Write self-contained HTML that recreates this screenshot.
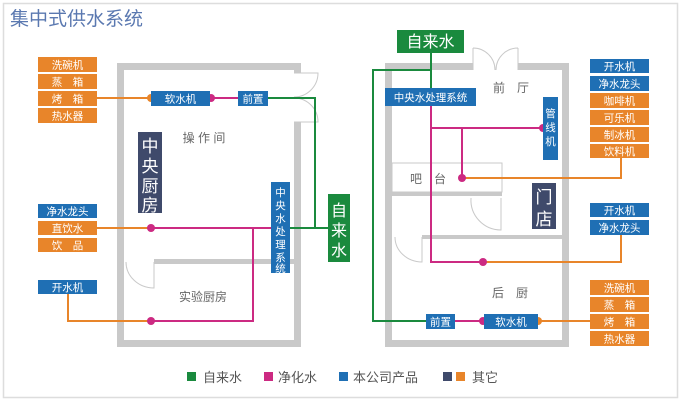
<!DOCTYPE html>
<html><head><meta charset="utf-8"><style>
html,body{margin:0;padding:0;background:#fff;}
svg{display:block;}
text{font-family:"Liberation Sans","Noto Sans CJK SC",sans-serif;}
</style></head><body>
<svg width="681" height="401" viewBox="0 0 681 401">
<rect x="3.5" y="3.5" width="674" height="394" fill="#fff" stroke="#ddd" stroke-width="1.5"/>
<text x="10" y="25" font-size="19" fill="#5a78b0">集中式供水系统</text>

<!-- left building walls -->
<g fill="#c9c9c9">
<rect x="117" y="63" width="184" height="7"/>
<rect x="117" y="63" width="7" height="284"/>
<rect x="117" y="340" width="184" height="7"/>
<rect x="294" y="63" width="7" height="10"/>
<rect x="294" y="122" width="7" height="225"/>
<rect x="154" y="259" width="140" height="5"/>
</g>
<g fill="none" stroke="#c9c9c9" stroke-width="1">
<path d="M294 73 L318 73 A24 24 0 0 1 294 97"/>
<path d="M294 122 L318 122 A24 24 0 0 0 294 98"/>
<path d="M154 262 L154 288 A28 26 0 0 1 126 262"/>
</g>

<!-- right building walls -->
<g fill="#c9c9c9">
<rect x="385" y="63" width="88" height="7"/>
<rect x="518" y="63" width="51" height="7"/>
<rect x="385" y="63" width="7" height="284"/>
<rect x="562" y="63" width="7" height="284"/>
<rect x="385" y="340" width="184" height="7"/>
<rect x="392" y="192" width="110" height="4"/>
<rect x="422" y="235" width="140" height="4"/>
</g>
<g fill="none" stroke="#c9c9c9" stroke-width="1">
<path d="M473 48 L473 70 M473 48 A22 22 0 0 1 495 70 M518 48 L518 70 M518 48 A22 22 0 0 0 496 70"/>
<rect x="392" y="163" width="110" height="29"/>
<path d="M501 198 L501 230 A30 30 0 0 1 471 198"/>
<path d="M422 237 L422 262 A27 25 0 0 1 395 237"/>
</g>

<!-- lines -->
<g fill="none" stroke-width="2">
<path d="M97 98 H151" stroke="#e8852a"/>
<path d="M210 98 H238" stroke="#cc2a82"/>
<path d="M268 98 H315 V228 M290 228 H329" stroke="#1a8a3e"/>
<path d="M97 228 H151" stroke="#e8852a"/>
<path d="M151 228 H271 M253 228 V321 H151" stroke="#cc2a82"/>
<path d="M68 294 V321 H151" stroke="#e8852a"/>
<path d="M431 53 V88 M431 70 H373 V321 H426" stroke="#1a8a3e"/>
<path d="M431 105 V262 H483 M431 128 H543 M462 128 V178" stroke="#cc2a82"/>
<path d="M462 178 H621 V158" stroke="#e8852a"/>
<path d="M483 262 H621 V235" stroke="#e8852a"/>
<path d="M455 321 H484" stroke="#cc2a82"/>
<path d="M538 321 H590" stroke="#e8852a"/>
</g>
<g>
<circle cx="151" cy="98" r="4" fill="#e8852a"/>
<circle cx="211" cy="98" r="4" fill="#cc2a82"/>
<circle cx="151" cy="228" r="4" fill="#cc2a82"/>
<circle cx="151" cy="321" r="4" fill="#cc2a82"/>
<circle cx="543" cy="128" r="4" fill="#cc2a82"/>
<circle cx="462" cy="178" r="4" fill="#cc2a82"/>
<circle cx="483" cy="262" r="4" fill="#cc2a82"/>
<circle cx="483" cy="321" r="4" fill="#cc2a82"/>
<circle cx="538" cy="321" r="4" fill="#e8852a"/>
</g>

<!-- boxes -->
<g font-size="10.5" fill="#fff" text-anchor="middle">
<rect x="38" y="57" width="59" height="15" fill="#e8852a"/><text x="67.5" y="68.5">洗碗机</text>
<rect x="38" y="74" width="59" height="15" fill="#e8852a"/><text x="67.5" y="85.5">蒸　箱</text>
<rect x="38" y="91" width="59" height="15" fill="#e8852a"/><text x="67.5" y="102.5">烤　箱</text>
<rect x="38" y="108" width="59" height="15" fill="#e8852a"/><text x="67.5" y="119.5">热水器</text>
<rect x="151" y="91" width="59" height="15" fill="#1f6fb4"/><text x="180.5" y="102.5">软水机</text>
<rect x="238" y="91" width="30" height="15" fill="#1f6fb4"/><text x="253" y="102.5">前置</text>
<rect x="38" y="204" width="59" height="14" fill="#1f6fb4"/><text x="67.5" y="215">净水龙头</text>
<rect x="38" y="221" width="59" height="14" fill="#e8852a"/><text x="67.5" y="232">直饮水</text>
<rect x="38" y="238" width="59" height="14" fill="#e8852a"/><text x="67.5" y="249">饮　品</text>
<rect x="38" y="280" width="59" height="14" fill="#1f6fb4"/><text x="67.5" y="291">开水机</text>
<rect x="271" y="182" width="19" height="91" fill="#1f6fb4"/>
<text x="280.5" y="196">中</text><text x="280.5" y="209">央</text><text x="280.5" y="222">水</text><text x="280.5" y="235">处</text><text x="280.5" y="248">理</text><text x="280.5" y="261">系</text><text x="280.5" y="272">统</text>
<rect x="385" y="88" width="91" height="18" fill="#1f6fb4"/><text x="430.5" y="101">中央水处理系统</text>
<rect x="543" y="97" width="15" height="63" fill="#1f6fb4"/>
<text x="550.5" y="117">管</text><text x="550.5" y="131">线</text><text x="550.5" y="145">机</text>
<rect x="590" y="59" width="59" height="14" fill="#1f6fb4"/><text x="619.5" y="70">开水机</text>
<rect x="590" y="76" width="59" height="15" fill="#1f6fb4"/><text x="619.5" y="87.5">净水龙头</text>
<rect x="590" y="93" width="59" height="15" fill="#e8852a"/><text x="619.5" y="104.5">咖啡机</text>
<rect x="590" y="110" width="59" height="15" fill="#e8852a"/><text x="619.5" y="121.5">可乐机</text>
<rect x="590" y="127" width="59" height="15" fill="#e8852a"/><text x="619.5" y="138.5">制冰机</text>
<rect x="590" y="144" width="59" height="14" fill="#e8852a"/><text x="619.5" y="155">饮料机</text>
<rect x="590" y="203" width="59" height="14" fill="#1f6fb4"/><text x="619.5" y="214">开水机</text>
<rect x="590" y="220" width="59" height="15" fill="#1f6fb4"/><text x="619.5" y="231.5">净水龙头</text>
<rect x="426" y="314" width="29" height="15" fill="#1f6fb4"/><text x="440.5" y="325.5">前置</text>
<rect x="484" y="314" width="54" height="15" fill="#1f6fb4"/><text x="511" y="325.5">软水机</text>
<rect x="590" y="280" width="59" height="15" fill="#e8852a"/><text x="619.5" y="291.5">洗碗机</text>
<rect x="590" y="297" width="59" height="15" fill="#e8852a"/><text x="619.5" y="308.5">蒸　箱</text>
<rect x="590" y="314" width="59" height="15" fill="#e8852a"/><text x="619.5" y="325.5">烤　箱</text>
<rect x="590" y="331" width="59" height="15" fill="#e8852a"/><text x="619.5" y="342.5">热水器</text>
</g>
<g fill="#fff" text-anchor="middle">
<rect x="138" y="132" width="24" height="81" fill="#3f4a6b"/>
<g font-size="17"><text x="150" y="152">中</text><text x="150" y="172">央</text><text x="150" y="192">厨</text><text x="150" y="211">房</text></g>
<rect x="532" y="183" width="24" height="46" fill="#3f4a6b"/>
<g font-size="17"><text x="544" y="203">门</text><text x="544" y="225">店</text></g>
<rect x="328" y="194" width="22" height="68" fill="#1a8a3e"/>
<g font-size="16"><text x="339" y="216">自</text><text x="339" y="236">来</text><text x="339" y="256">水</text></g>
<rect x="397" y="30" width="67" height="23" fill="#1a8a3e"/>
<text x="430.5" y="47" font-size="16">自来水</text>
</g>

<g font-size="12" fill="#666" text-anchor="middle">
<text x="204" y="142">操 作 间</text>
<text x="203" y="301">实验厨房</text>
<text x="511" y="92">前　厅</text>
<text x="428" y="183">吧　台</text>
<text x="510" y="297">后　厨</text>
</g>

<!-- legend -->
<g font-size="13" fill="#555">
<rect x="187" y="372" width="9" height="9" fill="#1a8a3e"/><text x="203" y="382">自来水</text>
<rect x="264" y="372" width="9" height="9" fill="#cc2a82"/><text x="278" y="382">净化水</text>
<rect x="339" y="372" width="9" height="9" fill="#1f6fb4"/><text x="353" y="382">本公司产品</text>
<rect x="443" y="372" width="9" height="9" fill="#3f4a6b"/>
<rect x="456" y="372" width="9" height="9" fill="#e8852a"/><text x="472" y="382">其它</text>
</g>
</svg>
</body></html>
